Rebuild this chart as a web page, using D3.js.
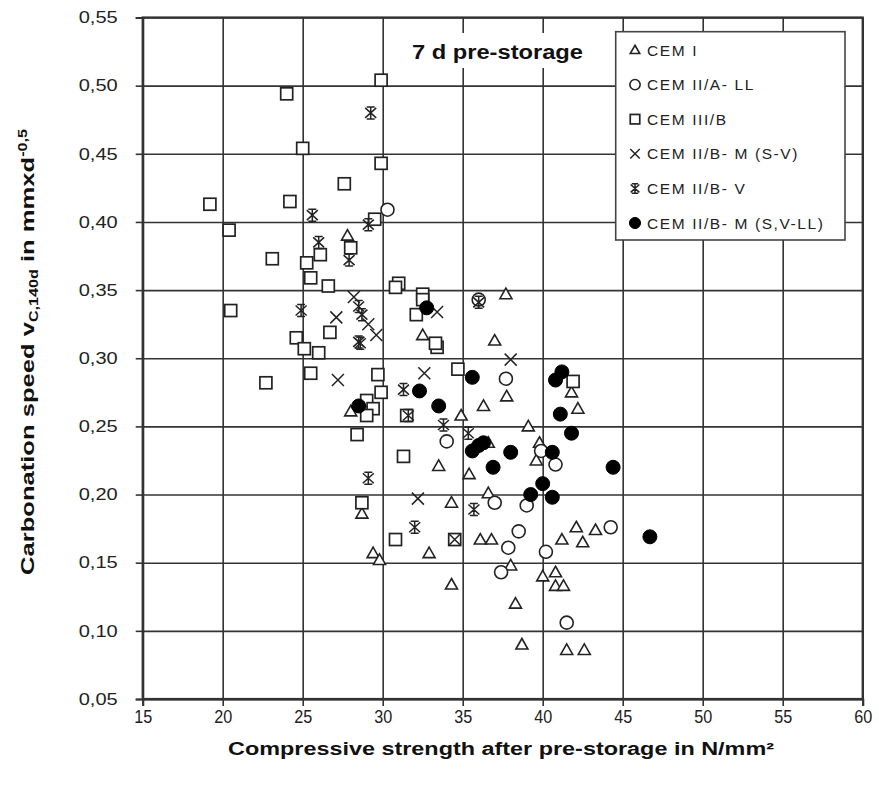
<!DOCTYPE html>
<html><head><meta charset="utf-8">
<script src="https://cdn.jsdelivr.net/npm/d3@7"></script>
<style>
html,body{margin:0;padding:0;background:#fff;}
svg{display:block;font-family:"Liberation Sans",Arial,sans-serif;}
</style></head>
<body><svg id="chart" width="879" height="790"></svg>
<script>
// ---------- data ----------
const xTicks = [15,20,25,30,35,40,45,50,55,60];
const yTicks = [0.05,0.10,0.15,0.20,0.25,0.30,0.35,0.40,0.45,0.50,0.55];
const seriesNames = ["CEM I","CEM II/A- LL","CEM III/B","CEM II/B- M (S-V)","CEM II/B- V","CEM II/B- M (S,V-LL)"];
const seriesSymbols = ["triangle","circle","square","cross","star","dot"];

const cemI = [[27.8,0.390],[28.0,0.261],[28.7,0.186],[29.4,0.157],[29.8,0.152],[32.5,0.317],[32.9,0.157],[33.5,0.221],[34.3,0.194],[34.3,0.134],[34.9,0.258],[35.4,0.215],[36.1,0.167],[36.8,0.167],[36.3,0.265],[36.6,0.201],[36.6,0.238],[37.0,0.313],[37.7,0.347],[37.75,0.272],[38.0,0.148],[38.3,0.120],[38.7,0.090],[39.1,0.250],[39.6,0.225],[39.8,0.238],[40.0,0.140],[40.8,0.143],[40.8,0.133],[41.3,0.133],[41.2,0.167],[41.5,0.086],[41.8,0.275],[42.1,0.176],[42.2,0.263],[42.5,0.165],[42.6,0.086],[43.3,0.174]];
const cemIIALL = [[30.3,0.409],[36.0,0.343],[37.7,0.285],[34.0,0.239],[39.9,0.232],[40.8,0.222],[37.0,0.194],[39.0,0.192],[38.5,0.173],[37.85,0.161],[37.4,0.143],[40.2,0.158],[44.25,0.176],[41.5,0.106]];
const cemIIIB = [[24.0,0.494],[29.9,0.504],[25.0,0.454],[29.9,0.443],[27.6,0.428],[19.2,0.413],[24.2,0.415],[29.5,0.402],[20.4,0.394],[23.1,0.373],[26.1,0.376],[28.0,0.381],[25.25,0.370],[25.5,0.359],[26.6,0.353],[31.0,0.355],[30.8,0.352],[32.5,0.347],[32.5,0.343],[32.1,0.332],[26.7,0.319],[33.4,0.308],[33.3,0.311],[24.6,0.315],[25.1,0.307],[26.0,0.304],[20.5,0.335],[22.7,0.282],[25.5,0.289],[29.7,0.288],[29.9,0.275],[29.0,0.269],[29.4,0.263],[29.0,0.258],[28.4,0.244],[31.5,0.258],[31.3,0.228],[28.7,0.194],[30.8,0.167],[34.5,0.167],[41.9,0.283],[34.7,0.292]];
const cemIIBMSV = [[27.1,0.330],[29.1,0.325],[29.6,0.317],[27.2,0.284],[32.6,0.289],[33.4,0.334],[38.0,0.299],[32.2,0.197],[34.5,0.167],[28.2,0.345]];
const cemIIBV = [[29.25,0.480],[25.6,0.405],[29.1,0.398],[26.0,0.385],[27.9,0.372],[24.9,0.335],[28.5,0.338],[28.7,0.332],[28.5,0.312],[28.6,0.311],[31.3,0.277],[31.6,0.258],[33.8,0.251],[35.35,0.245],[29.1,0.212],[32.0,0.176],[35.7,0.189],[36.0,0.341]];
const cemIIBMSVLL = [[28.5,0.265],[32.75,0.337],[32.3,0.276],[33.5,0.265],[35.6,0.286],[35.6,0.232],[36.0,0.236],[36.3,0.238],[38.0,0.231],[36.9,0.220],[41.2,0.290],[40.8,0.284],[41.1,0.259],[41.8,0.245],[40.6,0.231],[44.4,0.220],[40.0,0.208],[39.25,0.200],[40.6,0.198],[46.7,0.169]];
const seriesData = [cemI, cemIIALL, cemIIIB, cemIIBMSV, cemIIBV, cemIIBMSVLL];

const panelLabel = "7 d pre-storage";
const xTitle = "Compressive strength after pre-storage in N/mm²";

// ---------- layout ----------
const svg = d3.select("#chart");
const L = 142.7, R = 862.7, T = 17.5, B = 699;
const x = d3.scaleLinear().domain([15,60]).range([L,R]);
const y = d3.scaleLinear().domain([0.05,0.55]).range([B,T]);
const ink = "#222";
const locale = d3.formatLocale({decimal:",", thousands:".", grouping:[3], currency:["","€"]});
const fmtY = locale.format(".2f");

// grid
svg.append("g").attr("transform",`translate(0,${B})`)
  .call(d3.axisBottom(x).tickValues(xTicks).tickSize(-(B-T)).tickFormat(""))
  .call(g=>g.select(".domain").remove())
  .call(g=>g.selectAll("line").attr("stroke","#333").attr("stroke-width",1.6));
svg.append("g").attr("transform",`translate(${L},0)`)
  .call(d3.axisLeft(y).tickValues(yTicks).tickSize(-(R-L)).tickFormat(""))
  .call(g=>g.select(".domain").remove())
  .call(g=>g.selectAll("line").attr("stroke","#333").attr("stroke-width",1.6));

// frame
svg.append("rect").attr("x",L).attr("y",T).attr("width",R-L).attr("height",B-T)
  .attr("fill","none").attr("stroke","#333").attr("stroke-width",2.2);

// axes
const xa = svg.append("g").attr("transform",`translate(0,${B})`)
  .call(d3.axisBottom(x).tickValues(xTicks).tickSize(7).tickPadding(4).tickFormat(d3.format("d")));
xa.select(".domain").attr("stroke","#333").attr("stroke-width",2.2);
xa.selectAll("line").attr("stroke","#333").attr("stroke-width",1.6);
xa.selectAll("text").attr("font-size",18).attr("fill","#222")
  .attr("font-family","'Liberation Sans',Arial,sans-serif")
  .attr("textLength",18).attr("lengthAdjust","spacingAndGlyphs");

const ya = svg.append("g").attr("transform",`translate(${L},0)`)
  .call(d3.axisLeft(y).tickValues(yTicks).tickSize(7).tickPadding(18).tickFormat(fmtY));
ya.select(".domain").attr("stroke","#333").attr("stroke-width",2.2);
ya.selectAll("line").attr("stroke","#333").attr("stroke-width",1.6);
ya.selectAll("text").attr("font-size",16.5).attr("fill","#222")
  .attr("font-family","'Liberation Sans',Arial,sans-serif")
  .attr("textLength",39).attr("lengthAdjust","spacingAndGlyphs");

// panel label
svg.append("rect").attr("x",408).attr("y",33).attr("width",182).attr("height",35).attr("fill","#fff");
svg.append("text").attr("x",412).attr("y",59).attr("font-size",20).attr("font-weight","bold")
  .attr("fill","#111").attr("textLength",171).attr("lengthAdjust","spacingAndGlyphs").text(panelLabel);

// markers
function marker(g, type, s){
  const k = s/12;
  if(type==="triangle"){
    g.append("path").attr("d",`M0,${-6*k}L${6*k},${4.5*k}L${-6*k},${4.5*k}Z`)
      .attr("fill","#fff").attr("stroke",ink).attr("stroke-width",1.6);
  } else if(type==="circle"){
    g.append("circle").attr("r",6.5*k).attr("fill","#fff").attr("stroke",ink).attr("stroke-width",1.6);
  } else if(type==="square"){
    g.append("rect").attr("x",-6*k).attr("y",-6*k).attr("width",12*k).attr("height",12*k)
      .attr("fill","#fff").attr("stroke",ink).attr("stroke-width",1.7);
  } else if(type==="cross"){
    g.append("path").attr("d",`M${-6*k},${-6*k}L${6*k},${6*k}M${6*k},${-6*k}L${-6*k},${6*k}`)
      .attr("fill","none").attr("stroke",ink).attr("stroke-width",1.5);
  } else if(type==="star"){
    g.append("path").attr("d",`M${-5.5*k},${-5*k}L${5.5*k},${5*k}M${5.5*k},${-5*k}L${-5.5*k},${5*k}M0,${-6.5*k}L0,${6.5*k}M${-4*k},${-6*k}L${4*k},${-6*k}M${-4*k},${6*k}L${4*k},${6*k}`)
      .attr("fill","none").attr("stroke",ink).attr("stroke-width",1.5);
  } else if(type==="dot"){
    g.append("circle").attr("r",7*k).attr("fill","#000").attr("stroke","#000").attr("stroke-width",1);
  }
}

seriesData.forEach((data,i)=>{
  const g = svg.append("g");
  data.forEach(d=>{
    const m = g.append("g").attr("transform",`translate(${x(d[0])},${y(d[1])})`);
    marker(m, seriesSymbols[i], 12);
  });
});

// legend
const lg = svg.append("g");
lg.append("rect").attr("x",615.7).attr("y",31.7).attr("width",229.3).attr("height",208.3)
  .attr("fill","#fff").attr("stroke","#444").attr("stroke-width",1.6);
seriesNames.forEach((n,i)=>{
  const cy = 50 + i*34.6;
  const m = lg.append("g").attr("transform",`translate(635,${cy})`);
  marker(m, seriesSymbols[i], 9.5);
  lg.append("text").attr("x",647).attr("y",cy+5.5).attr("font-size",15.5).attr("fill","#222")
    .attr("letter-spacing","1.6px").text(n);
});

// axis titles
svg.append("text").attr("x",501).attr("y",755).attr("text-anchor","middle")
  .attr("font-size",18).attr("font-weight","bold").attr("fill","#111")
  .attr("textLength",546).attr("lengthAdjust","spacingAndGlyphs").text(xTitle);

const yt = svg.append("text").attr("transform","translate(34,352) rotate(-90)")
  .attr("text-anchor","middle").attr("font-size",19).attr("font-weight","bold").attr("fill","#111")
  .attr("textLength",446).attr("lengthAdjust","spacingAndGlyphs");
yt.append("tspan").text("Carbonation speed v");
yt.append("tspan").attr("font-size",12).attr("dy",4).text("C,140d");
yt.append("tspan").attr("dy",-4).text(" in mmxd");
yt.append("tspan").attr("font-size",12).attr("dy",-7).text("-0,5");
</script></body></html>
